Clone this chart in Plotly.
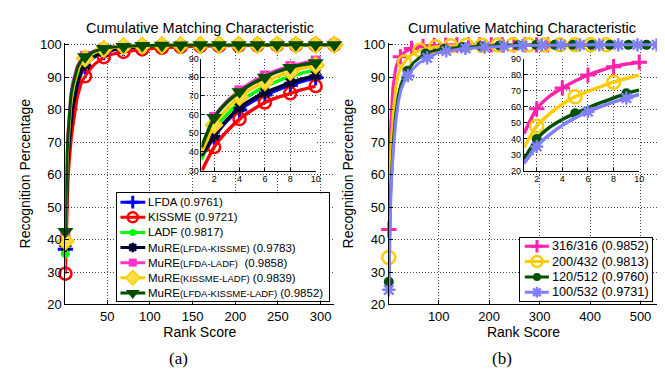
import plotly.graph_objects as go

W, H = 665, 373

# ---------------- panel (a) data ----------------
ranks_a = [1, 2, 3, 4, 5, 6, 7, 8, 9, 10, 15, 20, 24, 30, 35, 46, 57, 69, 80, 91,
           114, 136, 159, 181, 204, 226, 249, 271, 294, 316]
markers_main_a = [1, 24, 46, 69, 91, 114, 136, 159, 181, 204, 226, 249, 271, 294, 316]
markers_inset_a = [2, 4, 6, 8, 10]

lfda = [37.0, 48.0, 56.5, 62.5, 67.0, 70.5, 73.3, 75.8, 78.0, 79.8, 87.0, 91.5, 93.3, 95.2, 96.2,
        97.6, 98.4, 98.9, 99.2, 99.4, 99.6, 99.7, 99.8, 99.85, 99.9, 99.9, 99.95, 100, 100, 100]
kissme = [29.5, 42.6, 51.0, 57.6, 62.5, 66.5, 69.2, 71.4, 73.5, 75.3, 84.0, 88.5, 90.3, 92.5, 94.0,
          96.2, 97.2, 97.8, 98.3, 98.6, 99.1, 99.4, 99.6, 99.7, 99.8, 99.85, 99.9, 99.95, 100, 100]
ladf = [35.7, 52.0, 60.0, 66.5, 71.2, 75.0, 78.0, 80.5, 82.4, 84.0, 90.0, 93.4, 94.8, 96.3, 97.0,
        98.2, 98.8, 99.2, 99.5, 99.6, 99.8, 99.9, 99.9, 99.95, 100, 100, 100, 100, 100, 100]
mure_lk = [38.0, 48.6, 57.2, 63.6, 68.2, 71.7, 74.5, 77.0, 79.2, 81.0, 88.0, 92.2, 93.8, 95.5, 96.5,
           97.8, 98.5, 99.0, 99.3, 99.5, 99.7, 99.8, 99.85, 99.9, 99.9, 99.95, 100, 100, 100, 100]
mure_ll = [41.0, 58.8, 67.0, 73.0, 77.5, 81.0, 83.8, 86.0, 87.6, 89.0, 93.5, 95.8, 96.6, 97.6, 98.2,
           99.0, 99.4, 99.6, 99.7, 99.8, 99.9, 99.95, 100, 100, 100, 100, 100, 100, 100, 100]
mure_kl = [39.5, 54.5, 63.0, 69.5, 74.0, 77.5, 80.5, 83.0, 85.0, 86.5, 92.0, 94.8, 95.8, 97.0, 97.7,
           98.7, 99.2, 99.5, 99.6, 99.7, 99.85, 99.9, 99.95, 100, 100, 100, 100, 100, 100, 100]
mure_lkl = [42.5, 58.4, 66.5, 72.2, 76.5, 80.0, 83.0, 85.2, 86.8, 87.8, 93.0, 95.5, 96.3, 97.4, 98.0,
            98.9, 99.3, 99.5, 99.7, 99.8, 99.9, 99.95, 100, 100, 100, 100, 100, 100, 100, 100]

names_a = [
    'LFDA (0.9761)',
    'KISSME (0.9721)',
    'LADF (0.9817)',
    'MuRE<span style="font-size:9.5px">(LFDA-KISSME)</span> (0.9783)',
    'MuRE<span style="font-size:9.5px">(LFDA-LADF)</span>  (0.9858)',
    'MuRE<span style="font-size:9.5px">(KISSME-LADF)</span> (0.9839)',
    'MuRE<span style="font-size:9.5px">(LFDA-KISSME-LADF)</span> (0.9852)',
]
values_a = [lfda, kissme, ladf, mure_lk, mure_ll, mure_kl, mure_lkl]

# ---------------- panel (b) data ----------------
ranks_316 = [1, 2, 3, 4, 5, 6, 7, 8, 9, 10, 15, 20, 24, 30, 35, 46, 57, 69, 80, 91,
             114, 136, 159, 181, 204, 226, 249, 271, 294, 316]
g316 = [43.1, 58.6, 66.5, 71.7, 76.0, 79.7, 82.6, 85.0, 86.6, 87.8, 93.0, 95.5, 96.3, 97.4, 98.0,
        98.9, 99.3, 99.5, 99.7, 99.8, 99.9, 99.95, 100, 100, 100, 100, 100, 100, 100, 100]
markers_316 = [1, 24, 46, 69, 91, 114, 136, 159, 181, 204, 226, 249, 271, 294, 316]
inset_markers_316 = [2, 4, 6, 8, 10]

ranks_432 = [1, 2, 3, 4, 5, 6, 7, 8, 9, 10, 15, 20, 25, 32, 40, 50, 63, 80, 94, 124,
             155, 186, 217, 247, 278, 309, 340, 370, 401, 432]
g432 = [34.5, 47.8, 55.5, 61.5, 66.2, 69.5, 72.5, 75.3, 77.6, 79.7, 87.0, 91.0, 93.0, 94.7, 96.3,
        97.4, 98.3, 99.0, 99.4, 99.7, 99.85, 99.9, 99.95, 100, 100, 100, 100, 100, 100, 100]
markers_432 = [1, 32, 63, 94, 124, 155, 186, 217, 247, 278, 309, 340, 370, 401, 432]
inset_markers_432 = [2, 5, 8]

ranks_512 = [1, 2, 3, 4, 5, 6, 7, 8, 9, 10, 15, 20, 25, 30, 38, 50, 60, 74, 90, 111,
             147, 184, 220, 257, 293, 330, 366, 403, 439, 476, 512]
g512 = [27.0, 39.7, 47.0, 52.0, 55.8, 59.3, 62.5, 65.4, 68.3, 70.3, 79.0, 84.5, 87.8, 89.7, 92.0,
        94.5, 95.8, 97.3, 98.2, 98.8, 99.3, 99.6, 99.8, 99.9, 99.95, 100, 100, 100, 100, 100, 100]
markers_512 = [1, 38, 74, 111, 147, 184, 220, 257, 293, 330, 366, 403, 439, 476, 512]
inset_markers_512 = [2, 5, 9]

ranks_532 = [1, 2, 3, 4, 5, 6, 7, 8, 9, 10, 15, 20, 25, 30, 39, 50, 60, 77, 95, 115,
             153, 191, 229, 266, 304, 342, 380, 418, 456, 494, 532]
g532 = [24.5, 35.1, 42.5, 48.3, 53.0, 56.8, 60.0, 62.8, 65.3, 67.6, 76.5, 82.5, 86.0, 88.2, 90.5,
        92.8, 94.3, 96.0, 97.3, 98.1, 98.9, 99.3, 99.6, 99.8, 99.9, 99.95, 100, 100, 100, 100, 100]
markers_532 = [1, 39, 77, 115, 153, 191, 229, 266, 304, 342, 380, 418, 456, 494, 532]
inset_markers_532 = [2, 6, 9]

names_b = ['316/316 (0.9852)', '200/432 (0.9813)', '120/512 (0.9760)', '100/532 (0.9731)']

main_xticks_a = [50, 100, 150, 200, 250, 300]
main_xticks_b = [100, 200, 300, 400, 500]
main_yticks = [20, 30, 40, 50, 60, 70, 80, 90, 100]
inset_xticks = [2, 4, 6, 8, 10]
inset_yticks_a = [30, 40, 50, 60, 70, 80, 90]
inset_yticks_b = [20, 30, 40, 50, 60, 70, 80, 90]

# ---------------- styles ----------------
styles_a = [
    dict(color='#0000ff', symbol='cross-thin-open', size=10, lw=3),
    dict(color='#ff0000', symbol='circle-open', size=11, lw=2.5),
    dict(color='#00ff00', symbol='circle', size=8, lw=0),
    dict(color='#000033', symbol='asterisk-open', size=9, lw=2.5),
    dict(color='#ff33cc', symbol='square', size=9, lw=0),
    dict(color='#ffcc00', symbol='diamond', size=12, lw=1.5, fill='#ffdd44'),
    dict(color='#004d00', symbol='triangle-down', size=13, lw=0),
]
styles_b = [
    dict(color='#ff22aa', symbol='cross-thin-open', size=10, lw=3),
    dict(color='#ffcc00', symbol='circle-open', size=12, lw=2.5),
    dict(color='#005200', symbol='circle', size=9, lw=0),
    dict(color='#8080ff', symbol='asterisk-open', size=10, lw=2.5),
]

FONT = 'Liberation Sans, Arial, Helvetica, sans-serif'
SERIF = 'Liberation Serif, Times New Roman, serif'


def mk(st, grow=0):
    return dict(symbol=st['symbol'], size=st['size'] + grow, color=st.get('fill', st['color']),
                line=dict(color=st['color'], width=st['lw']))


def span(v0, p0, v1, p1, lo, hi):
    s = (p1 - p0) / (v1 - v0)
    return p0 + (lo - v0) * s, p0 + (hi - v0) * s


def xdom(a, b):
    return [a / W, b / W]


def ydom(top, bot):
    return [1 - bot / H, 1 - top / H]


fig = go.Figure()


def add_series(xr, yr, ranks, vals, main_marks, inset_marks, st, insx, insy):
    lookup = dict(zip(ranks, vals))
    fig.add_trace(go.Scatter(x=ranks, y=vals, mode='lines', line=dict(color=st['color'], width=3),
                             xaxis=xr, yaxis=yr, showlegend=False, hoverinfo='skip'))
    fig.add_trace(go.Scatter(x=main_marks, y=[lookup[r] for r in main_marks], mode='markers',
                             marker=mk(st, 1), cliponaxis=False,
                             xaxis=xr, yaxis=yr, showlegend=False, hoverinfo='skip'))
    ir = [r for r in ranks if r <= 10]
    fig.add_trace(go.Scatter(x=ir, y=[lookup[r] for r in ir], mode='lines',
                             line=dict(color=st['color'], width=3.5, shape='spline', smoothing=0.6),
                             xaxis=insx, yaxis=insy, showlegend=False, hoverinfo='skip'))
    fig.add_trace(go.Scatter(x=inset_marks, y=[lookup[r] for r in inset_marks], mode='markers',
                             marker=mk(st, 1), cliponaxis=False,
                             xaxis=insx, yaxis=insy, showlegend=False, hoverinfo='skip'))


# panel (a) main + inset traces
for vals, st in zip(values_a, styles_a):
    add_series('x', 'y', ranks_a, vals, markers_main_a, markers_inset_a, st, 'x2', 'y2')

# panel (b)
series_b = [
    (ranks_316, g316, markers_316, inset_markers_316),
    (ranks_432, g432, markers_432, inset_markers_432),
    (ranks_512, g512, markers_512, inset_markers_512),
    (ranks_532, g532, markers_532, inset_markers_532),
]
for (rk, vals, mm, im), st in zip(series_b, styles_b):
    add_series('x3', 'y3', rk, vals, mm, im, st, 'x4', 'y4')

# legend boxes (drawn as small axes so rows can be spaced like the original)
annotations = []


def add_legend(xr, yr, names, styles, x_line, x_mark, x_text, fsize):
    for i, (nm, st) in enumerate(zip(names, styles)):
        fig.add_trace(go.Scatter(x=x_line, y=[i, i], mode='lines', line=dict(color=st['color'], width=3),
                                 xaxis=xr, yaxis=yr, showlegend=False, hoverinfo='skip'))
        fig.add_trace(go.Scatter(x=[x_mark], y=[i], mode='markers', marker=mk(st, -1), cliponaxis=False,
                                 xaxis=xr, yaxis=yr, showlegend=False, hoverinfo='skip'))
        annotations.append(dict(x=x_text, y=i, xref=xr, yref=yr, text=nm, showarrow=False,
                                xanchor='left', yanchor='middle', borderpad=0,
                                font=dict(family=FONT, size=fsize, color='black')))


add_legend('x5', 'y5', names_a, styles_a, [3.3, 28.3], 15.7, 30.5, 11.5)
add_legend('x6', 'y6', names_b, styles_b, [4.7, 29.0], 17.0, 30.8, 12.7)

grid = dict(showgrid=True, gridcolor='#444444', griddash='1px,2px', gridwidth=1)
base = dict(showline=True, linecolor='black', linewidth=1, ticks='inside', ticklen=4,
            tickcolor='black', zeroline=False, mirror=False, **grid)

# pixel geometry
xa = span(50, 100, 300, 315, 1, 316)
ya = span(20, 302, 100, 33, 20, 100.6)
xb = span(100, 434, 500, 637.3, 1, 535)
xia = span(2, 207.7, 10, 310, 1, 10)
yia = span(30, 163.3, 90, 47.3, 30, 90)
xib = span(2, 532.7, 10, 636, 1, 10)
yib = span(20, 163.3, 90, 47.3, 20, 90)

tickfont_main = dict(family=FONT, size=13, color='black')
tickfont_inset = dict(family=FONT, size=9, color='black')
axis_title_font = dict(family=FONT, size=14, color='black')

fig.update_layout(
    width=W, height=H, margin=dict(l=0, r=0, t=0, b=0),
    paper_bgcolor='white', plot_bgcolor='white', showlegend=False,
    xaxis=dict(domain=xdom(*xa), range=[1, 316], tickvals=main_xticks_a, tickfont=tickfont_main,
               title=dict(text='Rank Score', font=axis_title_font, standoff=1), anchor='y', **base),
    yaxis=dict(domain=ydom(ya[1], ya[0]), range=[20, 100.6], tickvals=main_yticks, tickfont=tickfont_main,
               title=dict(text='Recognition Percentage', font=axis_title_font, standoff=6), anchor='x', **base),
    xaxis2=dict(domain=xdom(*xia), range=[1, 10], tickvals=inset_xticks, tickfont=tickfont_inset,
                anchor='y2', **{**base, 'ticklen': 3}),
    yaxis2=dict(domain=ydom(yia[1], yia[0]), range=[30, 90], tickvals=inset_yticks_a, tickfont=tickfont_inset,
                anchor='x2', **{**base, 'ticklen': 3}),
    xaxis3=dict(domain=xdom(*xb), range=[1, 535], tickvals=main_xticks_b, tickfont=tickfont_main,
                title=dict(text='Rank Score', font=axis_title_font, standoff=1), anchor='y3', **base),
    yaxis3=dict(domain=ydom(ya[1], ya[0]), range=[20, 100.6], tickvals=main_yticks, tickfont=tickfont_main,
                title=dict(text='Recognition Percentage', font=axis_title_font, standoff=6), anchor='x3', **base),
    xaxis4=dict(domain=xdom(*xib), range=[1, 10], tickvals=inset_xticks, tickfont=tickfont_inset,
                anchor='y4', **{**base, 'ticklen': 3}),
    yaxis4=dict(domain=ydom(yib[1], yib[0]), range=[20, 90], tickvals=inset_yticks_b, tickfont=tickfont_inset,
                anchor='x4', **{**base, 'ticklen': 3}),
    xaxis5=dict(domain=xdom(110, 323), range=[0, 213], anchor='y5', showline=True, mirror=True,
                linecolor='black', linewidth=1.2, showgrid=False, zeroline=False, showticklabels=False, ticks=''),
    yaxis5=dict(domain=ydom(187, 298), range=[6.51, -0.574], anchor='x5', showline=True, mirror=True,
                linecolor='black', linewidth=1.2, showgrid=False, zeroline=False, showticklabels=False, ticks=''),
    xaxis6=dict(domain=xdom(516, 649), range=[0, 133], anchor='y6', showline=True, mirror=True,
                linecolor='black', linewidth=1.2, showgrid=False, zeroline=False, showticklabels=False, ticks=''),
    yaxis6=dict(domain=ydom(233, 298), range=[3.548, -0.548], anchor='x6', showline=True, mirror=True,
                linecolor='black', linewidth=1.2, showgrid=False, zeroline=False, showticklabels=False, ticks=''),
)

title_text = 'Cumulative Matching Characteristic'
annotations += [
    dict(x=193 / W, y=1 - 16 / H, xref='paper', yref='paper', text=title_text, showarrow=False,
         xanchor='center', yanchor='middle', font=dict(family=FONT, size=14.5, color='black')),
    dict(x=518 / W, y=1 - 16 / H, xref='paper', yref='paper', text=title_text, showarrow=False,
         xanchor='center', yanchor='middle', font=dict(family=FONT, size=14.5, color='black')),
    dict(x=172 / W, y=1 - 358 / H, xref='paper', yref='paper', text='(a)', showarrow=False,
         xanchor='center', yanchor='middle', font=dict(family=SERIF, size=17, color='black')),
    dict(x=497.5 / W, y=1 - 358 / H, xref='paper', yref='paper', text='(b)', showarrow=False,
         xanchor='center', yanchor='middle', font=dict(family=SERIF, size=17, color='black')),
]
fig.update_layout(annotations=annotations)

fig.write_html('out.html')
